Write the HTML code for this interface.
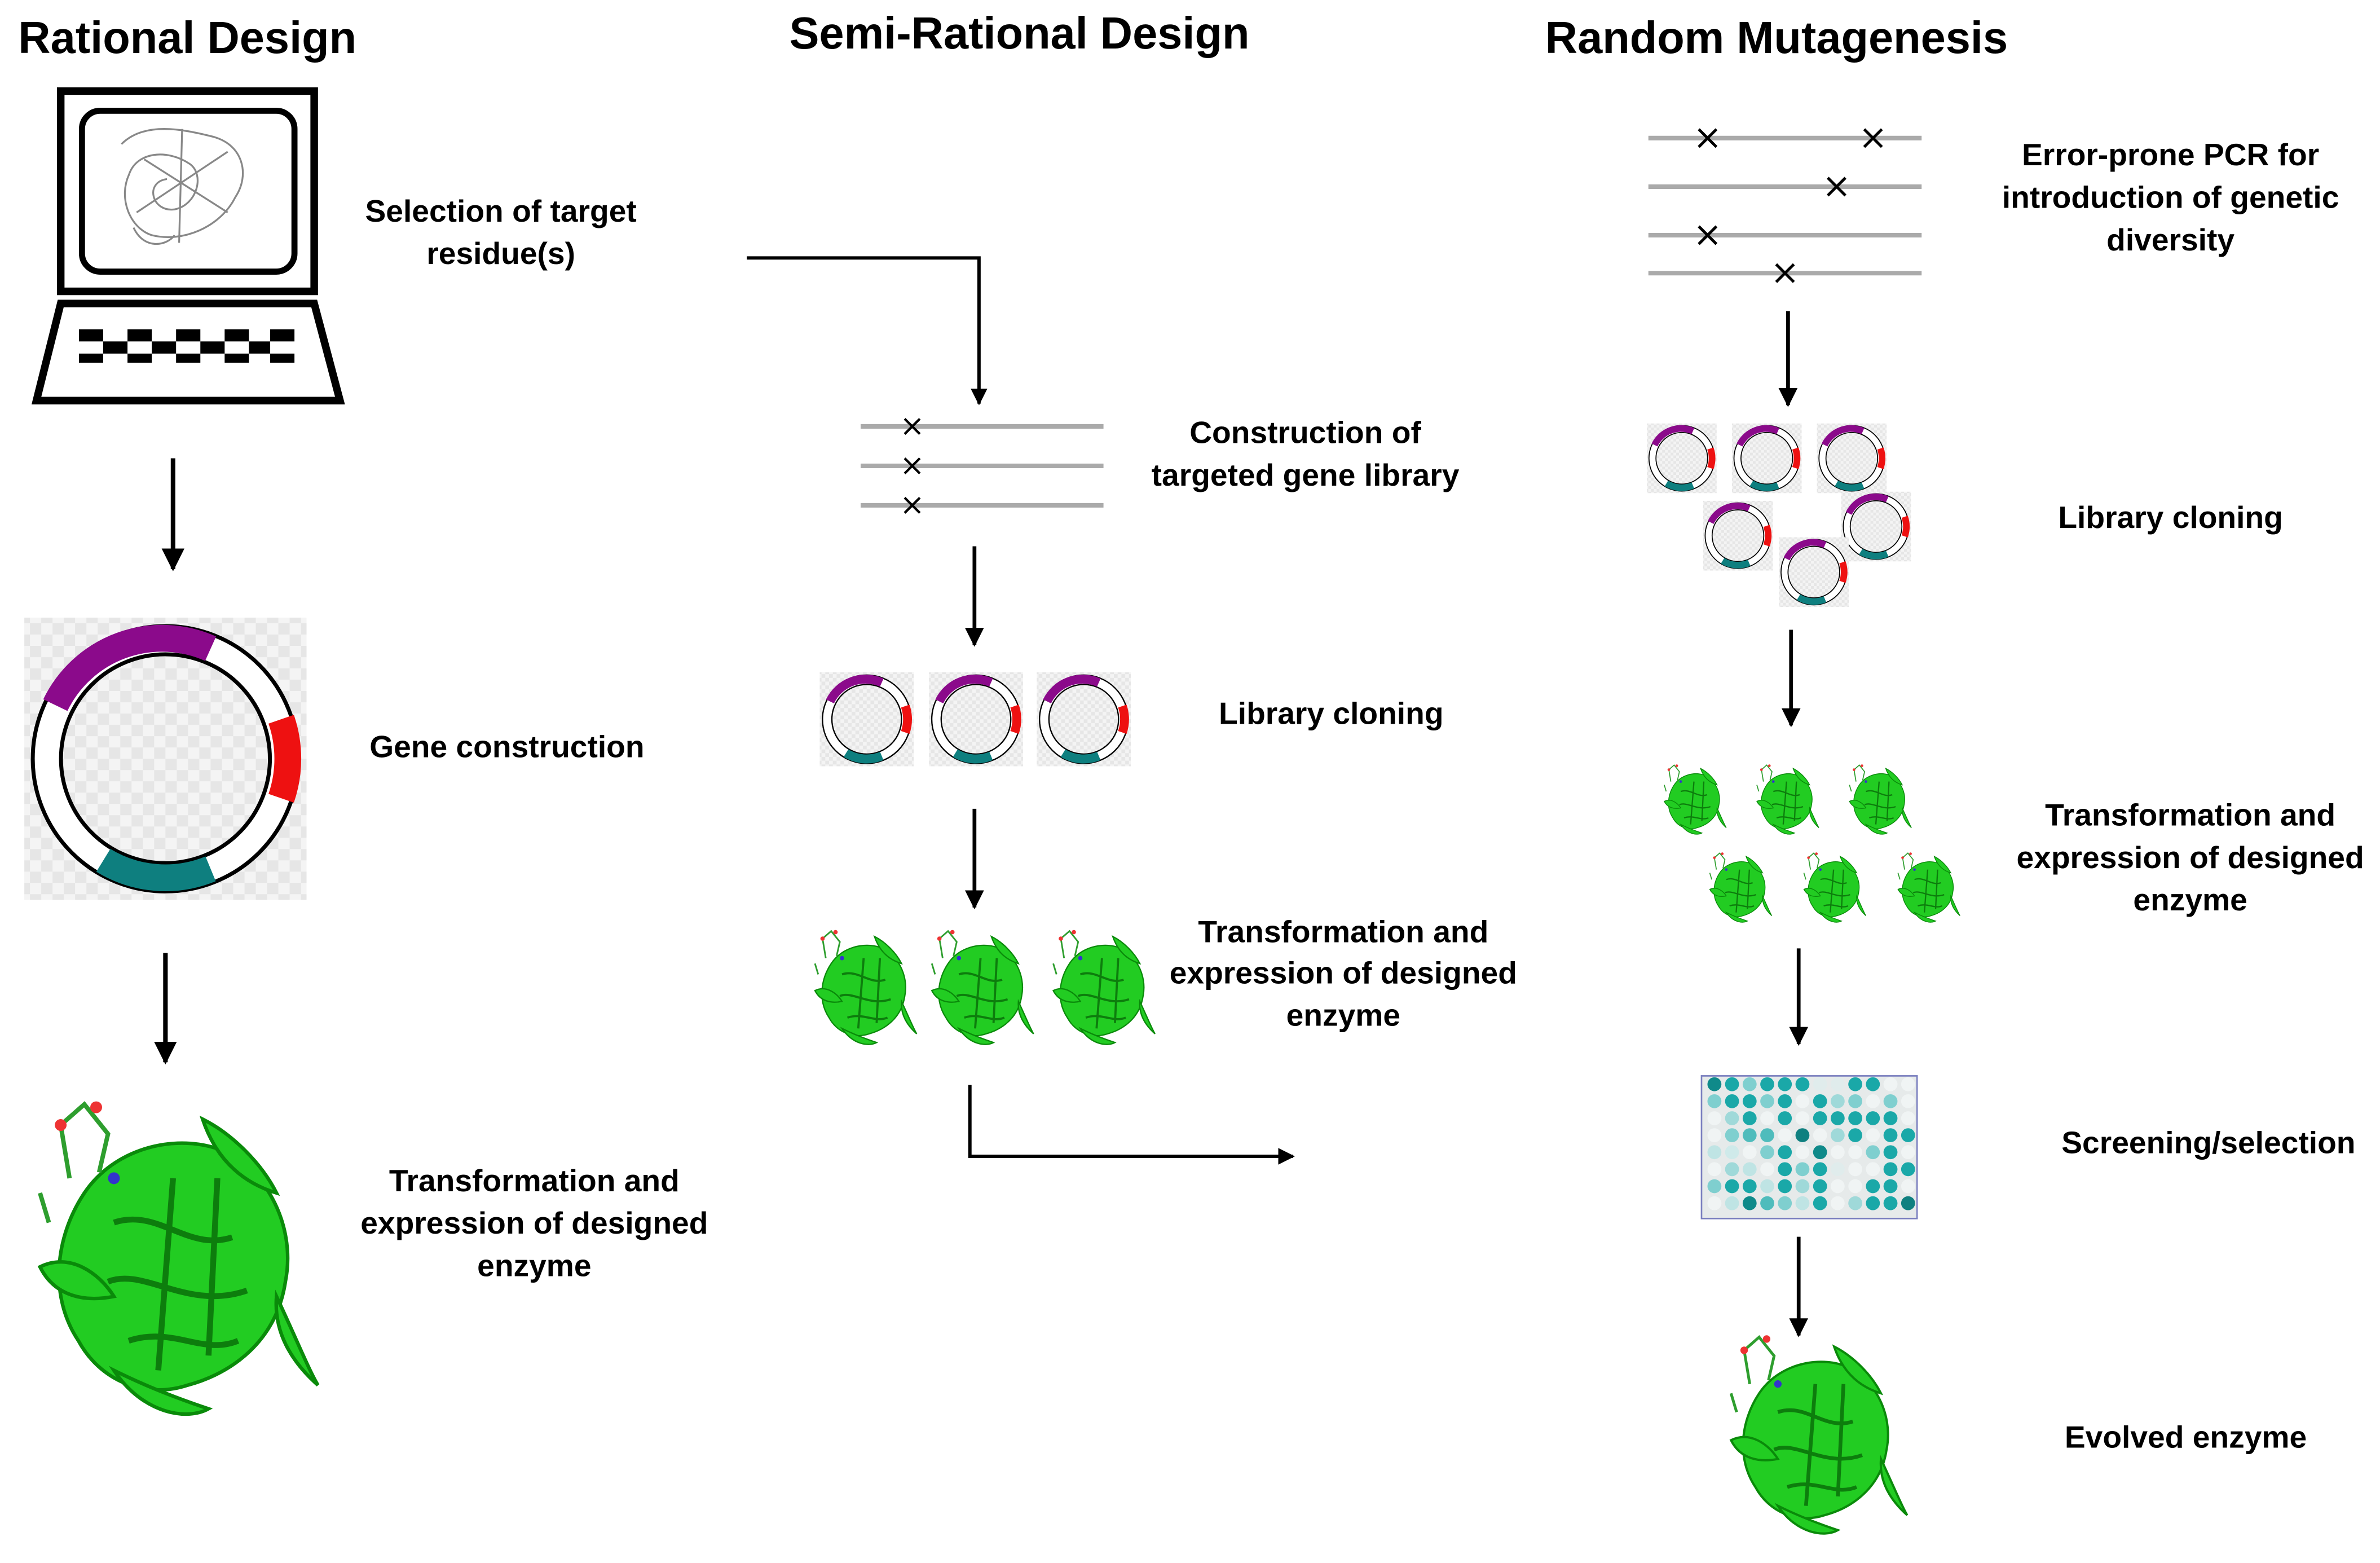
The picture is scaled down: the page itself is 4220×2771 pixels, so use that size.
<!DOCTYPE html>
<html><head><meta charset="utf-8"><style>
html,body{margin:0;padding:0;background:#fff;}
svg{display:block;}
text{font-family:"Liberation Sans",sans-serif;font-weight:bold;fill:#000;}
.t{font-size:29.5px;}
.l{font-size:20.5px;text-anchor:middle;}
</style></head><body>
<svg width="4220" height="2771" viewBox="0 0 1568 1030" preserveAspectRatio="none" xmlns="http://www.w3.org/2000/svg">
<defs>
<marker id="ah" viewBox="0 0 10 10" refX="9" refY="5" markerWidth="5" markerHeight="5" orient="auto"><path d="M0,0 L10,5 L0,10 z" fill="#000"/></marker>
<pattern id="chk" width="8" height="8" patternUnits="userSpaceOnUse"><rect width="8" height="8" fill="#f4f4f4"/><rect width="4" height="4" fill="#e6e6e6"/><rect x="4" y="4" width="4" height="4" fill="#e6e6e6"/></pattern>
<symbol id="plas" viewBox="-50 -50 100 100">
<rect x="-50" y="-50" width="100" height="100" fill="url(#chk)"/>
<circle r="47" fill="#fff" stroke="#000" stroke-width="1.4"/>
<circle r="37" fill="url(#chk)" stroke="#000" stroke-width="1.4"/>
<path d="M-39,-19 A42,42 0 0 1 16,-39" fill="none" stroke="#8b0a8b" stroke-width="9.5"/>
<path d="M41,-14 A43,43 0 0 1 41,14" fill="none" stroke="#ee1111" stroke-width="9.5"/>
<path d="M-22,36 A42,42 0 0 0 16,39" fill="none" stroke="#0e7f7f" stroke-width="9.5"/>
</symbol>
<symbol id="prot" viewBox="0 0 100 115">
<g fill="#22cc22" stroke="#0a8a0a" stroke-width="1.2">
<path d="M20,35 C10,50 8,70 18,85 C25,98 40,105 55,100 C70,96 85,85 88,65 C92,45 80,25 65,20 C50,15 30,20 20,35 Z"/>
<path d="M5,60 C15,55 25,62 30,70 C20,72 10,70 5,60 Z"/>
<path d="M60,10 C70,15 80,25 85,35 C75,32 65,25 60,10 Z"/>
<path d="M30,95 C40,110 55,112 62,108 C50,104 40,100 30,95 Z"/>
<path d="M85,70 C92,85 96,95 99,100 C90,92 84,82 85,70 Z"/>
</g>
<g fill="none" stroke="#0d7d0d" stroke-width="2">
<path d="M30,45 C45,40 55,55 70,50"/><path d="M28,65 C40,60 55,75 75,68"/><path d="M35,85 C50,80 60,90 72,85"/><path d="M50,30 L45,95"/><path d="M65,30 L62,90"/>
</g>
<g fill="none" stroke="#2e9e2e" stroke-width="1.5"><path d="M15,30 L12,12 L20,5 L28,15 L25,28"/><path d="M8,45 L5,35"/></g>
<circle cx="12" cy="12" r="2" fill="#e33"/><circle cx="24" cy="6" r="2" fill="#e33"/><circle cx="30" cy="30" r="2" fill="#33c"/>
</symbol>
<symbol id="X" viewBox="-6 -6 12 12"><path d="M-5,-5 L5,5 M5,-5 L-5,5" stroke="#000" stroke-width="1.6"/></symbol>
</defs>

<text class="t" x="12" y="35">Rational Design</text>
<text class="t" x="520" y="32">Semi-Rational Design</text>
<text class="t" x="1018" y="35">Random Mutagenesis</text>

<rect x="40" y="60" width="167" height="132" fill="#fff" stroke="#000" stroke-width="5"/>
<rect x="54" y="73" width="140" height="106" rx="12" fill="#fff" stroke="#000" stroke-width="4"/>
<g fill="none" stroke="#888" stroke-width="1.2"><path d="M80,95 C95,80 120,85 140,90 C160,95 165,115 155,130 C145,150 120,160 100,155 C85,150 78,130 85,115 C90,100 110,98 125,108 C135,115 130,135 115,138 C100,140 95,120 110,118"/><path d="M95,105 L150,140 M90,140 L150,100 M120,85 L118,160"/><path d="M88,150 C95,165 110,162 115,155"/></g>
<path d="M40,200 L207,200 L224,264 L24,264 Z" fill="#fff" stroke="#000" stroke-width="5"/>
<g fill="#000">
<rect x="52" y="217" width="16" height="8"/><rect x="84" y="217" width="16" height="8"/><rect x="116" y="217" width="16" height="8"/><rect x="148" y="217" width="16" height="8"/><rect x="178" y="217" width="16" height="8"/>
<rect x="68" y="225" width="16" height="8"/><rect x="100" y="225" width="16" height="8"/><rect x="132" y="225" width="16" height="8"/><rect x="164" y="225" width="14" height="8"/>
<rect x="52" y="233" width="16" height="6"/><rect x="84" y="233" width="16" height="6"/><rect x="116" y="233" width="16" height="6"/><rect x="148" y="233" width="16" height="6"/><rect x="178" y="233" width="16" height="6"/>
</g>

<text class="l" x="330" y="146">Selection of target</text>
<text class="l" x="330" y="174">residue(s)</text>

<line x1="114" y1="302" x2="114" y2="375" stroke="#000" stroke-width="3" marker-end="url(#ah)"/>
<use href="#plas" x="16" y="402" width="186" height="196"/>
<text class="l" x="334" y="499">Gene construction</text>
<line x1="109" y1="628" x2="109" y2="700" stroke="#000" stroke-width="3" marker-end="url(#ah)"/>
<use href="#prot" x="16" y="718" width="196" height="224" preserveAspectRatio="none"/>
<text class="l" x="352" y="785">Transformation and</text>
<text class="l" x="352" y="813">expression of designed</text>
<text class="l" x="352" y="841">enzyme</text>

<path d="M492,170 L645,170 L645,266" fill="none" stroke="#000" stroke-width="2.2" marker-end="url(#ah)"/>
<g stroke="#aaa" stroke-width="3"><line x1="567" y1="281" x2="727" y2="281"/><line x1="567" y1="307" x2="727" y2="307"/><line x1="567" y1="333" x2="727" y2="333"/></g>
<use href="#X" x="595" y="275" width="12" height="12"/><use href="#X" x="595" y="301" width="12" height="12"/><use href="#X" x="595" y="327" width="12" height="12"/>
<text class="l" x="860" y="292">Construction of</text>
<text class="l" x="860" y="320">targeted gene library</text>
<line x1="642" y1="360" x2="642" y2="425" stroke="#000" stroke-width="2.5" marker-end="url(#ah)"/>
<use href="#plas" x="540" y="443" width="62" height="62"/>
<use href="#plas" x="612" y="443" width="62" height="62"/>
<use href="#plas" x="683" y="443" width="62" height="62"/>
<text class="l" x="877" y="477">Library cloning</text>
<line x1="642" y1="533" x2="642" y2="598" stroke="#000" stroke-width="2.5" marker-end="url(#ah)"/>
<use href="#prot" x="533" y="610" width="72" height="82" preserveAspectRatio="none"/>
<use href="#prot" x="610" y="610" width="72" height="82" preserveAspectRatio="none"/>
<use href="#prot" x="690" y="610" width="72" height="82" preserveAspectRatio="none"/>
<text class="l" x="885" y="621">Transformation and</text>
<text class="l" x="885" y="648">expression of designed</text>
<text class="l" x="885" y="676">enzyme</text>
<path d="M639,715 L639,762 L852,762" fill="none" stroke="#000" stroke-width="2.2" marker-end="url(#ah)"/>

<g stroke="#aaa" stroke-width="3"><line x1="1086" y1="91" x2="1266" y2="91"/><line x1="1086" y1="123" x2="1266" y2="123"/><line x1="1086" y1="155" x2="1266" y2="155"/><line x1="1086" y1="180" x2="1266" y2="180"/></g>
<use href="#X" x="1118" y="84" width="14" height="14"/><use href="#X" x="1227" y="84" width="14" height="14"/><use href="#X" x="1203" y="116" width="14" height="14"/><use href="#X" x="1118" y="148" width="14" height="14"/><use href="#X" x="1169" y="173" width="14" height="14"/>
<text class="l" x="1430" y="109">Error-prone PCR for</text>
<text class="l" x="1430" y="137">introduction of genetic</text>
<text class="l" x="1430" y="165">diversity</text>
<line x1="1178" y1="205" x2="1178" y2="267" stroke="#000" stroke-width="2.5" marker-end="url(#ah)"/>
<use href="#plas" x="1085" y="279" width="46" height="46"/>
<use href="#plas" x="1141" y="279" width="46" height="46"/>
<use href="#plas" x="1197" y="279" width="46" height="46"/>
<use href="#plas" x="1122" y="330" width="46" height="46"/>
<use href="#plas" x="1213" y="324" width="46" height="46"/>
<use href="#plas" x="1172" y="354" width="46" height="46"/>
<text class="l" x="1430" y="348">Library cloning</text>
<line x1="1180" y1="415" x2="1180" y2="478" stroke="#000" stroke-width="2.5" marker-end="url(#ah)"/>
<use href="#prot" x="1090" y="502" width="52" height="50" preserveAspectRatio="none"/>
<use href="#prot" x="1151" y="502" width="52" height="50" preserveAspectRatio="none"/>
<use href="#prot" x="1212" y="502" width="52" height="50" preserveAspectRatio="none"/>
<use href="#prot" x="1120" y="560" width="52" height="50" preserveAspectRatio="none"/>
<use href="#prot" x="1182" y="560" width="52" height="50" preserveAspectRatio="none"/>
<use href="#prot" x="1244" y="560" width="52" height="50" preserveAspectRatio="none"/>
<text class="l" x="1443" y="544">Transformation and</text>
<text class="l" x="1443" y="572">expression of designed</text>
<text class="l" x="1443" y="600">enzyme</text>
<line x1="1185" y1="625" x2="1185" y2="688" stroke="#000" stroke-width="2.5" marker-end="url(#ah)"/>

<rect x="1121" y="709" width="142" height="94" fill="#e6eaea" stroke="#7a7fbf" stroke-width="1"/>
<g fill="#1aa8a8">
<circle cx="1129.5" cy="714.5" r="4.6" fill="#0f8a8a"/><circle cx="1141.1" cy="714.5" r="4.6"/><circle cx="1152.7" cy="714.5" r="4.6" fill="#7fcfcf"/><circle cx="1164.3" cy="714.5" r="4.6"/><circle cx="1175.9" cy="714.5" r="4.6"/><circle cx="1187.5" cy="714.5" r="4.6"/><circle cx="1199.1" cy="714.5" r="4.6" fill="#e0ecec"/><circle cx="1210.7" cy="714.5" r="4.6" fill="#e0ecec"/><circle cx="1222.3" cy="714.5" r="4.6"/><circle cx="1233.9" cy="714.5" r="4.6"/><circle cx="1245.5" cy="714.5" r="4.6" fill="#f0f4f4"/><circle cx="1257.1" cy="714.5" r="4.6" fill="#f0f4f4"/>
<circle cx="1129.5" cy="725.7" r="4.6" fill="#7fcfcf"/><circle cx="1141.1" cy="725.7" r="4.6"/><circle cx="1152.7" cy="725.7" r="4.6"/><circle cx="1164.3" cy="725.7" r="4.6" fill="#7fcfcf"/><circle cx="1175.9" cy="725.7" r="4.6"/><circle cx="1187.5" cy="725.7" r="4.6" fill="#f0f4f4"/><circle cx="1199.1" cy="725.7" r="4.6"/><circle cx="1210.7" cy="725.7" r="4.6" fill="#9fd9d9"/><circle cx="1222.3" cy="725.7" r="4.6" fill="#7fcfcf"/><circle cx="1233.9" cy="725.7" r="4.6" fill="#f0f4f4"/><circle cx="1245.5" cy="725.7" r="4.6" fill="#7fcfcf"/><circle cx="1257.1" cy="725.7" r="4.6" fill="#f0f4f4"/>
<circle cx="1129.5" cy="736.9" r="4.6" fill="#f0f4f4"/><circle cx="1141.1" cy="736.9" r="4.6" fill="#9fd9d9"/><circle cx="1152.7" cy="736.9" r="4.6"/><circle cx="1164.3" cy="736.9" r="4.6" fill="#f0f4f4"/><circle cx="1175.9" cy="736.9" r="4.6"/><circle cx="1187.5" cy="736.9" r="4.6" fill="#f0f4f4"/><circle cx="1199.1" cy="736.9" r="4.6"/><circle cx="1210.7" cy="736.9" r="4.6"/><circle cx="1222.3" cy="736.9" r="4.6"/><circle cx="1233.9" cy="736.9" r="4.6"/><circle cx="1245.5" cy="736.9" r="4.6"/><circle cx="1257.1" cy="736.9" r="4.6" fill="#f0f4f4"/>
<circle cx="1129.5" cy="748.1" r="4.6" fill="#f0f4f4"/><circle cx="1141.1" cy="748.1" r="4.6" fill="#7fcfcf"/><circle cx="1152.7" cy="748.1" r="4.6" fill="#4fbcbc"/><circle cx="1164.3" cy="748.1" r="4.6" fill="#4fbcbc"/><circle cx="1175.9" cy="748.1" r="4.6" fill="#f0f4f4"/><circle cx="1187.5" cy="748.1" r="4.6" fill="#0f8080"/><circle cx="1199.1" cy="748.1" r="4.6" fill="#f0f4f4"/><circle cx="1210.7" cy="748.1" r="4.6" fill="#9fd9d9"/><circle cx="1222.3" cy="748.1" r="4.6"/><circle cx="1233.9" cy="748.1" r="4.6" fill="#f0f4f4"/><circle cx="1245.5" cy="748.1" r="4.6"/><circle cx="1257.1" cy="748.1" r="4.6"/>
<circle cx="1129.5" cy="759.3" r="4.6" fill="#bfe4e4"/><circle cx="1141.1" cy="759.3" r="4.6" fill="#cfeaea"/><circle cx="1152.7" cy="759.3" r="4.6" fill="#f0f4f4"/><circle cx="1164.3" cy="759.3" r="4.6" fill="#7fcfcf"/><circle cx="1175.9" cy="759.3" r="4.6"/><circle cx="1187.5" cy="759.3" r="4.6" fill="#f0f4f4"/><circle cx="1199.1" cy="759.3" r="4.6" fill="#0f8a8a"/><circle cx="1210.7" cy="759.3" r="4.6" fill="#f0f4f4"/><circle cx="1222.3" cy="759.3" r="4.6" fill="#f0f4f4"/><circle cx="1233.9" cy="759.3" r="4.6" fill="#7fcfcf"/><circle cx="1245.5" cy="759.3" r="4.6"/><circle cx="1257.1" cy="759.3" r="4.6" fill="#f0f4f4"/>
<circle cx="1129.5" cy="770.5" r="4.6" fill="#f0f4f4"/><circle cx="1141.1" cy="770.5" r="4.6" fill="#9fd9d9"/><circle cx="1152.7" cy="770.5" r="4.6" fill="#bfe4e4"/><circle cx="1164.3" cy="770.5" r="4.6" fill="#f0f4f4"/><circle cx="1175.9" cy="770.5" r="4.6"/><circle cx="1187.5" cy="770.5" r="4.6" fill="#7fcfcf"/><circle cx="1199.1" cy="770.5" r="4.6"/><circle cx="1210.7" cy="770.5" r="4.6" fill="#e0ecec"/><circle cx="1222.3" cy="770.5" r="4.6" fill="#f0f4f4"/><circle cx="1233.9" cy="770.5" r="4.6" fill="#f0f4f4"/><circle cx="1245.5" cy="770.5" r="4.6"/><circle cx="1257.1" cy="770.5" r="4.6"/>
<circle cx="1129.5" cy="781.7" r="4.6" fill="#7fcfcf"/><circle cx="1141.1" cy="781.7" r="4.6"/><circle cx="1152.7" cy="781.7" r="4.6"/><circle cx="1164.3" cy="781.7" r="4.6" fill="#bfe4e4"/><circle cx="1175.9" cy="781.7" r="4.6"/><circle cx="1187.5" cy="781.7" r="4.6" fill="#9fd9d9"/><circle cx="1199.1" cy="781.7" r="4.6"/><circle cx="1210.7" cy="781.7" r="4.6" fill="#f0f4f4"/><circle cx="1222.3" cy="781.7" r="4.6" fill="#f0f4f4"/><circle cx="1233.9" cy="781.7" r="4.6"/><circle cx="1245.5" cy="781.7" r="4.6"/><circle cx="1257.1" cy="781.7" r="4.6" fill="#f0f4f4"/>
<circle cx="1129.5" cy="792.9" r="4.6" fill="#f0f4f4"/><circle cx="1141.1" cy="792.9" r="4.6" fill="#bfe4e4"/><circle cx="1152.7" cy="792.9" r="4.6" fill="#0f8a8a"/><circle cx="1164.3" cy="792.9" r="4.6" fill="#4fbcbc"/><circle cx="1175.9" cy="792.9" r="4.6" fill="#7fcfcf"/><circle cx="1187.5" cy="792.9" r="4.6" fill="#bfe4e4"/><circle cx="1199.1" cy="792.9" r="4.6"/><circle cx="1210.7" cy="792.9" r="4.6" fill="#f0f4f4"/><circle cx="1222.3" cy="792.9" r="4.6" fill="#9fd9d9"/><circle cx="1233.9" cy="792.9" r="4.6"/><circle cx="1245.5" cy="792.9" r="4.6"/><circle cx="1257.1" cy="792.9" r="4.6" fill="#0f8080"/>
</g>
<text class="l" x="1455" y="760">Screening/selection</text>
<line x1="1185" y1="815" x2="1185" y2="880" stroke="#000" stroke-width="2.5" marker-end="url(#ah)"/>
<use href="#prot" x="1130" y="875" width="132" height="142" preserveAspectRatio="none"/>
<text class="l" x="1440" y="954">Evolved enzyme</text>
</svg>
</body></html>
